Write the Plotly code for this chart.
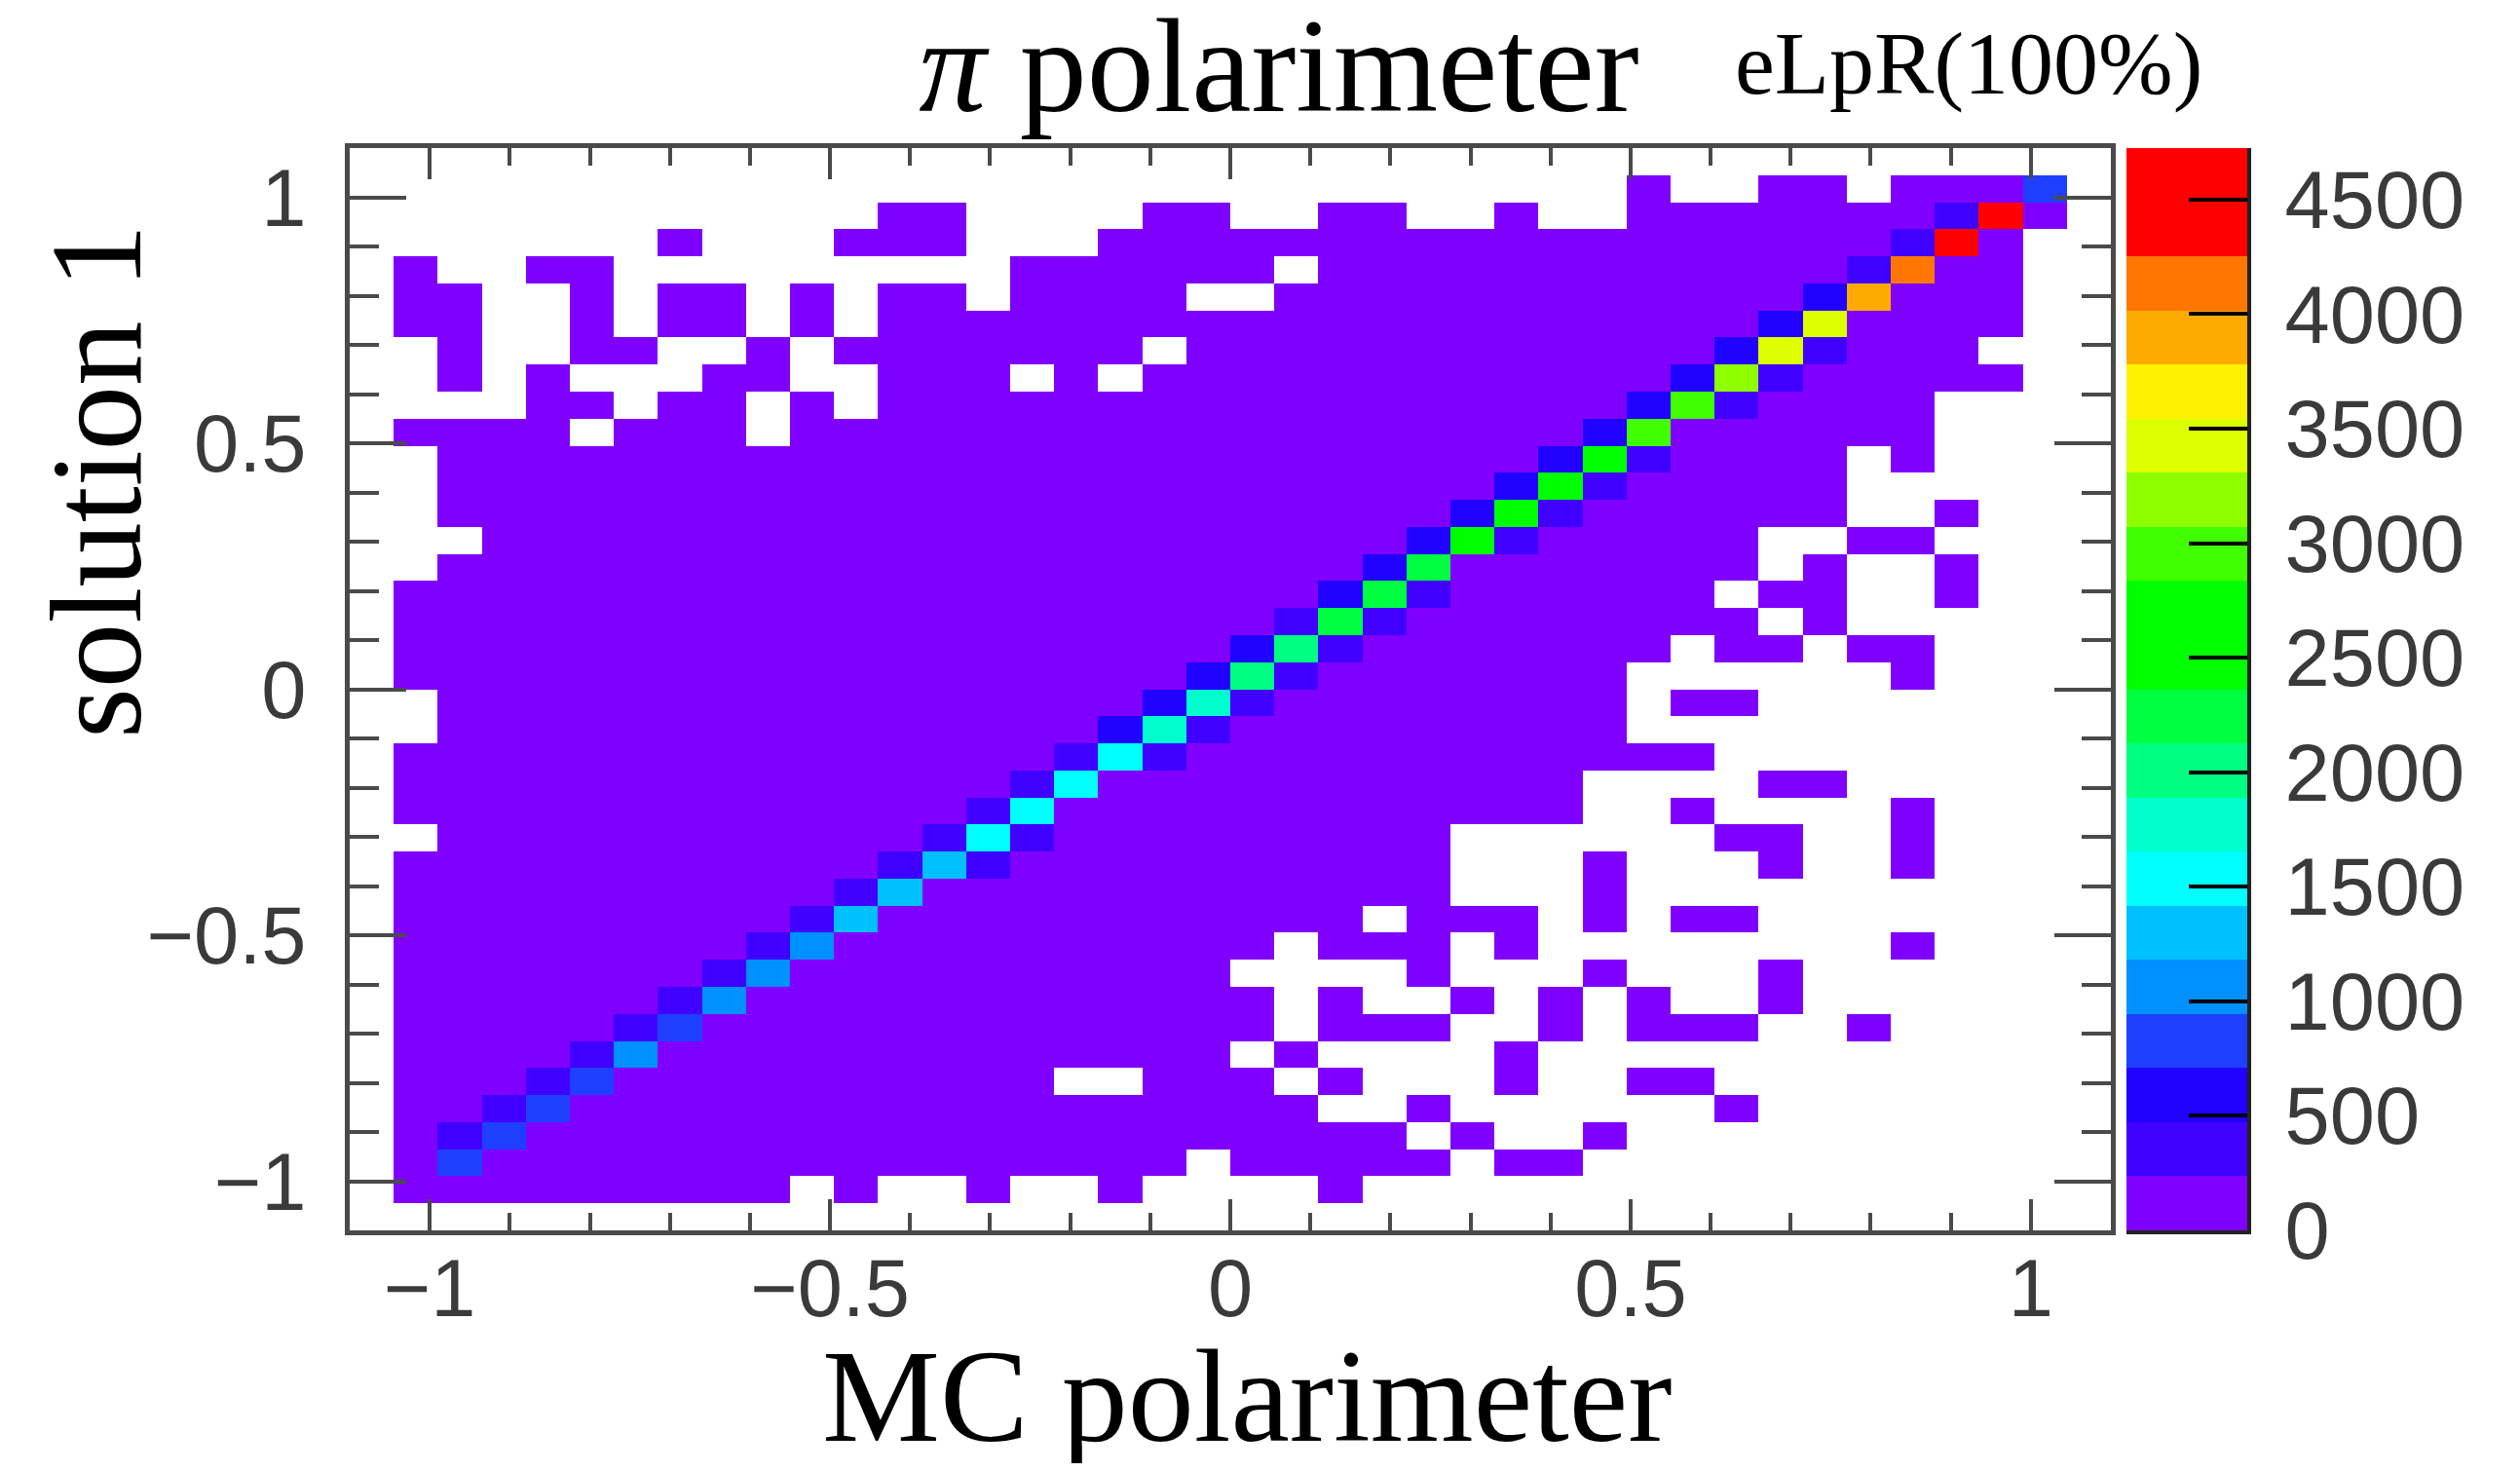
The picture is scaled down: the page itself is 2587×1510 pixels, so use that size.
import numpy as np
import plotly.graph_objects as go

# ---- data -----------------------------------------------------------------
n_bins = 40
axis_min, axis_max = -1.1, 1.1
zmax = 4725
n_bands = 20
band_colors = ["#8000ff", "#4000ff", "#2000ff", "#1f3fff", "#0090ff", "#00c0ff", "#00ffff",
               "#00ffcc", "#00ff80", "#00ff40", "#00ff00", "#00ff00", "#3fff00", "#8fff00",
               "#ddff00", "#fff200", "#ffaa00", "#ff7700", "#ff0000", "#ff0000"]

# filled bins per row (top row first), inclusive column runs
filled_runs = [
    [],
    [(29, 29), (32, 33), (35, 38)],
    [(12, 13), (18, 19), (22, 23), (26, 26), (29, 38)],
    [(7, 7), (11, 13), (17, 37)],
    [(1, 1), (4, 5), (15, 20), (22, 37)],
    [(1, 2), (5, 5), (7, 8), (10, 10), (12, 13), (15, 18), (21, 37)],
    [(1, 2), (5, 5), (7, 8), (10, 10), (12, 37)],
    [(2, 2), (5, 6), (9, 9), (11, 17), (19, 36)],
    [(2, 2), (4, 4), (8, 9), (12, 14), (16, 16), (18, 37)],
    [(4, 5), (7, 8), (10, 10), (12, 35)],
    [(1, 4), (6, 8), (10, 35)],
    [(2, 33), (35, 35)],
    [(2, 33)],
    [(2, 33), (36, 36)],
    [(3, 31), (34, 35)],
    [(2, 31), (33, 33), (36, 36)],
    [(1, 30), (32, 33), (36, 36)],
    [(1, 31), (33, 33)],
    [(1, 29), (31, 32), (34, 35)],
    [(1, 28), (35, 35)],
    [(2, 28), (30, 31)],
    [(2, 28)],
    [(1, 30)],
    [(1, 27), (32, 33)],
    [(1, 27), (30, 30), (35, 35)],
    [(2, 24), (31, 32), (35, 35)],
    [(1, 24), (28, 28), (32, 32), (35, 35)],
    [(1, 24), (28, 28)],
    [(1, 22), (24, 26), (28, 28), (30, 31)],
    [(1, 20), (22, 24), (26, 26), (35, 35)],
    [(1, 19), (24, 24), (28, 28), (32, 32)],
    [(1, 20), (22, 22), (25, 25), (27, 27), (29, 29), (32, 32)],
    [(1, 20), (22, 24), (27, 27), (29, 31), (34, 34)],
    [(1, 19), (21, 21), (26, 26)],
    [(1, 15), (18, 20), (22, 22), (26, 26), (29, 30)],
    [(1, 21), (24, 24), (31, 31)],
    [(1, 23), (25, 25), (28, 28)],
    [(1, 18), (20, 24), (26, 27)],
    [(1, 9), (11, 11), (14, 14), (17, 17), (22, 22)],
    [],
]
background_count = 118

# main diagonal, rows 1..37 (column = 39 - row)
diagonal_counts = [827, 4607, 4607, 4134, 3898, 3426, 3426, 3189, 2953, 2953, 2717, 2717, 2717,
                   2481, 2244, 2244, 2244, 2008, 2008, 1772, 1772, 1536, 1536, 1536, 1536,
                   1299, 1299, 1299, 1063, 1063, 1063, 827, 1063, 827, 827, 827, 827]
# bin just left of the diagonal, rows 2..36 (column = 38 - row)
upper_side_counts = [354, 354, 354, 591, 591, 591, 591, 591, 591, 591, 591, 591, 591, 591, 591,
                     354, 591, 591, 591, 591, 354, 354, 354, 354, 354, 354, 354, 354, 354, 354,
                     354, 354, 354, 354, 354]
# bins just right of the diagonal: row -> count (column = 40 - row)
lower_side_counts = {7: 354, 8: 354, 9: 354, 11: 354, 12: 354, 13: 354, 14: 354, 16: 354, 17: 354,
                     18: 354, 19: 354, 20: 354, 21: 354, 22: 354, 25: 354, 26: 354}

major_ticks = [-1, -0.5, 0, 0.5, 1]
major_labels = ["\u22121", "\u22120.5", "0", "0.5", "1"]
cbar_ticks = [0, 500, 1000, 1500, 2000, 2500, 3000, 3500, 4000, 4500]

# ---- assemble --------------------------------------------------------------
edges = np.linspace(axis_min, axis_max, n_bins + 1)
centers = (edges[:-1] + edges[1:]) / 2
z = [[None] * n_bins for _ in range(n_bins)]
for r, runs in enumerate(filled_runs):
    for a, b in runs:
        for c in range(a, b + 1):
            z[r][c] = background_count
for i, v in enumerate(diagonal_counts):
    r = i + 1
    z[r][39 - r] = v
for i, v in enumerate(upper_side_counts):
    r = i + 2
    z[r][38 - r] = v
for r, v in lower_side_counts.items():
    z[r][40 - r] = v

scale = []
for b, col in enumerate(band_colors):
    scale += [[b / n_bands, col], [(b + 1) / n_bands, col]]

band_edges = np.linspace(0, zmax, n_bands + 1)
band_centers = (band_edges[:-1] + band_edges[1:]) / 2

# page pixel geometry; the page body adds an 8 px margin round the figure
PAGE_W, PAGE_H = 2587, 1510
BODY = 8
W, H = PAGE_W - 2 * BODY, PAGE_H - 2 * BODY
MB = 120  # bottom margin of the figure, in px
PAPER_H = H - MB
L, R, T, B = 359, 2167, 152, 1263
CB_L, CB_R = 2183, 2307
SANS = "Liberation Sans, Arial, sans-serif"
SERIF = "Liberation Serif, Times New Roman, serif"
TICK = "#3a3a3a"
FRAME = "#4a4a4a"


def px(x):
    return (x - BODY) / W


def py(y):
    return 1 - (y - BODY) / PAPER_H


fig = go.Figure()
fig.add_trace(go.Heatmap(
    x=centers, y=centers[::-1], z=z, zmin=0, zmax=zmax, colorscale=scale,
    hoverongaps=False, showscale=False, xaxis="x", yaxis="y",
))
fig.add_trace(go.Heatmap(
    x=[0], y=band_centers, z=[[v] for v in band_centers], zmin=0, zmax=zmax, colorscale=scale,
    showscale=False, xaxis="x2", yaxis="y2", hoverinfo="skip",
))

axis_common = dict(
    range=[axis_min, axis_max], showgrid=False, zeroline=False, showline=True, linewidth=5,
    linecolor=FRAME, mirror="ticks", ticks="inside", tickwidth=4, tickcolor=FRAME,
    tickmode="array", tickvals=major_ticks, ticktext=major_labels,
    tickfont=dict(family=SANS, size=83, color=TICK),
)
minor_common = dict(ticks="inside", tickwidth=4, tickcolor=FRAME, tickmode="linear",
                    tick0=-1, dtick=0.1, showgrid=False)

fig.update_layout(
    width=W, height=H, autosize=False,
    margin=dict(l=0, r=0, t=0, b=MB, pad=0),
    paper_bgcolor="#ffffff", plot_bgcolor="#ffffff",
    xaxis=dict(**axis_common, domain=[px(L), px(R)], anchor="y", ticklen=32, ticklabelstandoff=-17,
               minor=dict(**minor_common, ticklen=18)),
    yaxis=dict(**axis_common, domain=[py(B), py(T)], anchor="x", ticklen=58, ticklabelstandoff=23,
               minor=dict(**minor_common, ticklen=30)),
    xaxis2=dict(domain=[px(CB_L), px(CB_R)], anchor="y2", range=[-0.5, 0.5], showgrid=False,
                zeroline=False, showticklabels=False, ticks="", showline=True, linewidth=4,
                linecolor="#222222"),
    yaxis2=dict(domain=[py(B), py(T)], anchor="x2", side="right", range=[0, zmax], showgrid=False,
                zeroline=False, showline=True, linewidth=4, linecolor="#222222",
                ticks="inside", ticklen=60, tickwidth=4, tickcolor="#000000",
                tickmode="array", tickvals=cbar_ticks, ticktext=[str(t) for t in cbar_ticks],
                tickfont=dict(family=SANS, size=83, color=TICK), ticklabelstandoff=18),
    title=dict(text="<i>\u03c0</i> polarimeter", font=dict(family=SERIF, size=138, color="#000000"),
               x=px(1313), xanchor="center", xref="paper", y=1 - (66 - BODY) / H, yanchor="middle"),
    annotations=[
        dict(text="eLpR(100%)", xref="paper", yref="paper", showarrow=False,
             x=px(2021), y=py(65), xanchor="center", yanchor="middle",
             font=dict(family=SERIF, size=92, color="#000000")),
        dict(text="MC polarimeter", xref="paper", yref="paper", showarrow=False,
             x=px(1280), y=py(1433), xanchor="center", yanchor="middle",
             font=dict(family=SERIF, size=136, color="#000000")),
        dict(text="solution 1", xref="paper", yref="paper", showarrow=False, textangle=-90,
             x=px(99), y=py(494), xanchor="center", yanchor="middle",
             font=dict(family=SERIF, size=133, color="#000000")),
    ],
)
fig.write_html("out.html")
